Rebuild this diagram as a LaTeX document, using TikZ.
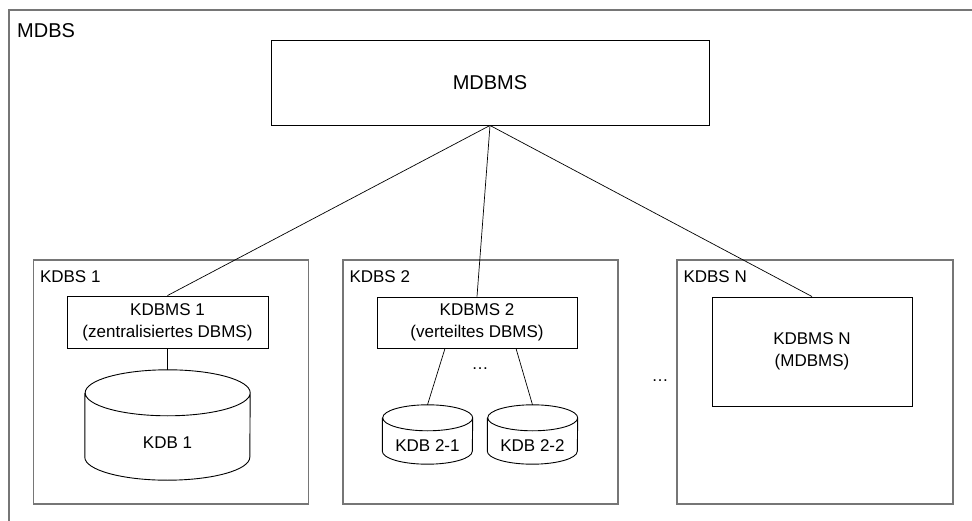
\documentclass[tikz,border=0pt]{standalone}
\usepackage{fontspec}
\setmainfont{Liberation Sans}
\usetikzlibrary{positioning,shapes.geometric}
\definecolor{framegray}{RGB}{118,118,118}
% database drum round an empty node: #1 node, #2 x radius, #3 y radius of the lid
\newcommand{\dbdrum}[3]{%
  \draw[line width=0.9pt] ([yshift=-#3]#1.north west) -- ([yshift=#3]#1.south west)
    arc[start angle=180,end angle=360,x radius=#2,y radius=#3]
    -- ([yshift=-#3]#1.north east)
    arc[start angle=0,end angle=360,x radius=#2,y radius=#3];}

\begin{document}
\begin{tikzpicture}[x=1pt,y=-1pt,font=\fontsize{17}{22}\selectfont,
    sysframe/.style={draw=framegray,line width=1.4pt,minimum width=275pt,minimum height=244pt,inner sep=0pt},
    syslabel/.style={anchor=base west,inner sep=0pt},
    dbmsbox/.style={draw,line width=0.9pt,align=center,inner sep=0pt},
    kdb/.style={inner sep=0pt},
    link/.style={line width=0.7pt}]
  \useasboundingbox (0,0) rectangle (972,521);
  % outer MDBS frame, runs off the page on the right and at the bottom
  \draw[draw=framegray,line width=1.4pt] (9,530) -- (9,10) -- (980,10);
  \node[syslabel,font=\fontsize{20}{24}\selectfont] (mdbs) at (17,38) {MDBS};
  % global DBMS
  \node[dbmsbox,minimum width=438pt,minimum height=85pt,font=\fontsize{20}{24}\selectfont] (mdbms) at (490,82.5) {MDBMS};
  % component systems
  \node[sysframe] (kdbs1) at (171,382) {};
  \node[sysframe] (kdbs2) at (480.5,382) {};
  \node[sysframe,minimum width=276pt] (kdbsn) at (815,382) {};
  \node[syslabel] (kdbs1-label) at ([shift={(7pt,-23.5pt)}]kdbs1.north west) {KDBS 1};
  \node[syslabel] (kdbs2-label) at ([shift={(7pt,-23.5pt)}]kdbs2.north west) {KDBS 2};
  \node[syslabel] (kdbsn-label) at ([shift={(7pt,-23.5pt)}]kdbsn.north west) {KDBS N};
  % local DBMS
  \node[dbmsbox,minimum width=201pt,minimum height=52pt] (kdbms1) at (167.5,322) {KDBMS 1\\(zentralisiertes DBMS)};
  \node[dbmsbox,minimum width=200pt,minimum height=51pt] (kdbms2) at (477,322.5) {KDBMS 2\\(verteiltes DBMS)};
  \node[dbmsbox,minimum width=200pt,minimum height=109pt] (kdbmsn) at (812,351.5) {KDBMS N\\(MDBMS)};
  % local databases, text sits in the body below the lid
  \node[kdb,minimum width=165pt,minimum height=110pt] (kdb1) at (167.5,425) {};
  \node[kdb,minimum width=90pt,minimum height=59pt] (kdb21) at (427.5,434.5) {};
  \node[kdb,minimum width=90pt,minimum height=59pt] (kdb22) at (532.5,434.5) {};
  \dbdrum{kdb1}{82.5pt}{23pt}
  \dbdrum{kdb21}{45pt}{13pt}
  \dbdrum{kdb22}{45pt}{13pt}
  \node (kdb1-text) at ([yshift=-18pt]kdb1.center) {KDB 1};
  \node (kdb21-text) at ([yshift=-11.5pt]kdb21.center) {KDB 2-1};
  \node (kdb22-text) at ([yshift=-11.5pt]kdb22.center) {KDB 2-2};
  \node (dots2) at (480,369) {\ldots};
  \node (dotsn) at (660,381) {\ldots};
  % connections
  \draw[link] (mdbms.south) -- (kdbms1.north);
  \draw[link] (mdbms.south) -- (kdbms2.north);
  \draw[link] (mdbms.south) -- (kdbmsn.north);
  \draw[link] (kdbms1.south) -- (kdb1.north);
  \draw[link] ([xshift=-32pt]kdbms2.south) -- (kdb21.north);
  \draw[link] ([xshift=39pt]kdbms2.south) -- (kdb22.north);
\end{tikzpicture}
\end{document}
